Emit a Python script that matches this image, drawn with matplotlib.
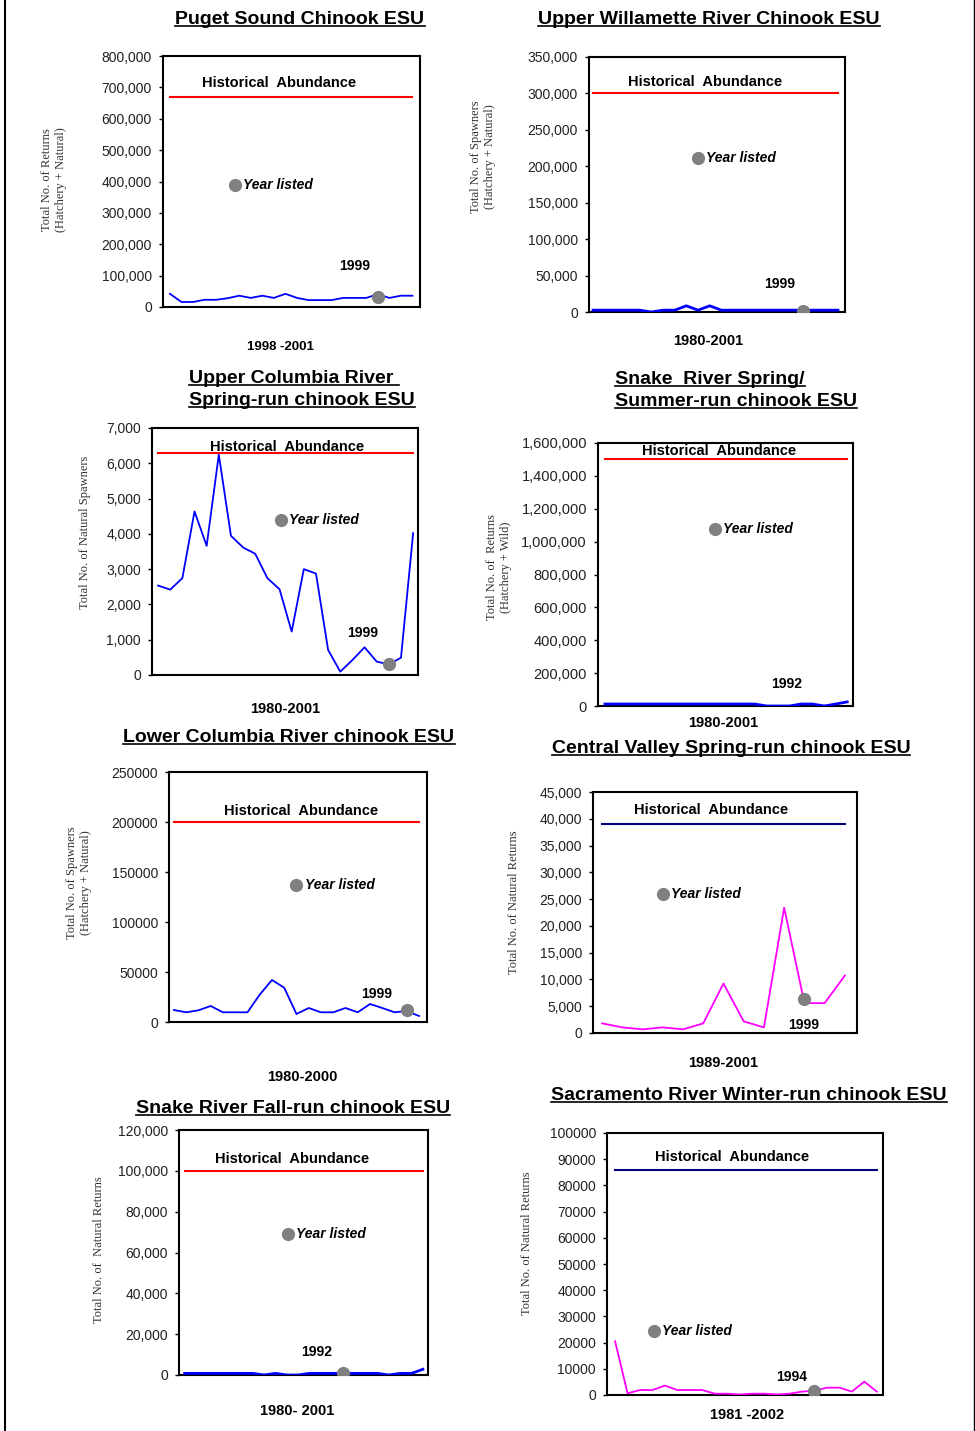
import matplotlib
matplotlib.use("Agg")
import matplotlib.pyplot as plt
from matplotlib.lines import Line2D
from matplotlib.ticker import FuncFormatter, MultipleLocator

W, H = 975, 1431

# --- valores (um ponto por ano) ---
puget_vals = [42000, 16000, 16000, 23000, 23000, 28000, 36000, 29000, 36000, 29000,
              42000, 29000, 22000, 22000, 22000, 29000, 29000, 29000, 41000, 29000,
              36000, 36000]
puget_hist = 670000
puget_listed = (18, 33000)

willamette_vals = [2500, 2500, 2500, 2500, 2500, 0, 2500, 2500, 8500, 2500,
                   8500, 2500, 2500, 2500, 2500, 2500, 2500, 2500, 2500, 2500,
                   2500, 2500]
willamette_hist = 300000
willamette_listed = (18, 2000)

ucol_vals = [2535, 2420, 2745, 4635, 3660, 6245, 3945, 3615, 3435, 2745,
             2430, 1230, 3000, 2875, 710, 95, 425, 785, 380, 300,
             490, 4020]
ucol_hist = 6280
ucol_listed = (19, 300)

snake_ss_vals = [12000, 12000, 12000, 12000, 12000, 12000, 12000, 12000, 12000, 12000,
                 12000, 12000, 12000, 12000, 0, 0, 0, 12000, 12000, 0,
                 12000, 25000]
snake_ss_hist = 1500000

lcol_vals = [12000, 9700, 11700, 16000, 9700, 9700, 9700, 27300, 42000, 34300,
             8000, 14000, 9700, 9700, 14000, 9700, 18000, 14000, 9700, 11000,
             6000]
lcol_hist = 200000
lcol_listed = (19, 12000)

cv_vals = [1800, 1050, 680, 1050, 680, 1800, 9240, 2170, 1050, 23400,
           5580, 5580, 10730]
cv_hist = 39000
cv_listed = (10, 6300)

snake_fall_vals = [800, 800, 800, 800, 800, 800, 800, 0, 800, 0,
                   0, 800, 800, 800, 800, 800, 800, 800, 0, 800,
                   800, 2800]
snake_fall_hist = 100000
snake_fall_listed = (14, 1100)

sac_vals = [20500, 640, 1900, 1900, 3570, 1900, 1900, 1900, 500, 500,
            200, 500, 500, 200, 500, 1300, 1650, 2800, 2800, 1300,
            5100, 1300]
sac_hist = 86000
sac_listed = (16, 1600)

BLUE, MAGENTA, RED, NAVY, GRAY = "#0000FF", "#FF00FF", "#FF0000", "#000080", "#808080"

panels = [
    dict(title=["Puget Sound Chinook ESU"], title_xy=(300, 24), title_ha="center",
         ylabel="Total No. of Returns\n(Hatchery + Natural)", ylabel_xy=(54, 180),
         xlabel="1998 -2001", xlabel_xy=(280, 347), xlabel_fs=9.5,
         rect=(163, 56, 420, 307), vals=puget_vals, hist=puget_hist, listed=puget_listed,
         ymax=800000, step=100000, comma=True, pad=(0.6, 0.65),
         color=BLUE, lw=1.3, hcolor=RED, year="1999",
         hist_xy=(9.45, 713000), leg_xy=(5.6, 390000), year_xy=(16.0, 131000)),
    dict(title=["Upper Willamette River Chinook ESU"], title_xy=(709, 24), title_ha="center",
         ylabel="Total No. of Spawners\n(Hatchery + Natural)", ylabel_xy=(483, 157),
         xlabel="1980-2001", xlabel_xy=(708, 341), xlabel_fs=10.5,
         rect=(589, 57, 845, 312), vals=willamette_vals, hist=willamette_hist,
         listed=willamette_listed,
         ymax=350000, step=50000, comma=True, pad=(0.35, 0.6),
         color=BLUE, lw=2.0, hcolor=RED, year="1999",
         hist_xy=(9.6, 315000), leg_xy=(9.0, 211500), year_xy=(16.0, 39000)),
    dict(title=["Upper Columbia River ", "Spring-run chinook ESU"], title_xy=(189, 383),
         title_ha="left",
         ylabel="Total No. of Natural Spawners", ylabel_xy=(85, 532),
         xlabel="1980-2001", xlabel_xy=(285, 709), xlabel_fs=10.5,
         rect=(152, 428, 418, 675), vals=ucol_vals, hist=ucol_hist, listed=ucol_listed,
         ymax=7000, step=1000, comma=True, pad=(0.5, 0.4),
         color=BLUE, lw=1.3, hcolor=RED, year="1999",
         hist_xy=(10.6, 6460), leg_xy=(10.1, 4400), year_xy=(16.8, 1180)),
    dict(title=["Snake  River Spring/", "Summer-run chinook ESU"], title_xy=(615, 384),
         title_ha="left",
         ylabel="Total No. of  Returns\n(Hatchery + Wild)", ylabel_xy=(499, 567),
         xlabel="1980-2001", xlabel_xy=(723, 723), xlabel_fs=10.5,
         rect=(598, 443, 853, 706), vals=snake_ss_vals, hist=snake_ss_hist, listed=None,
         ymax=1600000, step=200000, comma=True, pad=(0.6, 0.5),
         color=BLUE, lw=2.0, hcolor=RED, year="1992",
         hist_xy=(9.9, 1553000), leg_xy=(9.5, 1075000), year_xy=(15.7, 136000)),
    dict(title=["Lower Columbia River chinook ESU"], title_xy=(289, 742), title_ha="center",
         ylabel="Total No. of Spawners\n(Hatchery + Natural)", ylabel_xy=(79, 883),
         xlabel="1980-2000", xlabel_xy=(302, 1077), xlabel_fs=10.5,
         rect=(169, 772, 427, 1022), vals=lcol_vals, hist=lcol_hist, listed=lcol_listed,
         ymax=250000, step=50000, comma=False, pad=(0.4, 0.65),
         color=BLUE, lw=1.3, hcolor=RED, year="1999",
         hist_xy=(10.4, 210700), leg_xy=(10.0, 136700), year_xy=(16.5, 28300)),
    dict(title=["Central Valley Spring-run chinook ESU"], title_xy=(731, 753),
         title_ha="center",
         ylabel="Total No. of Natural Returns", ylabel_xy=(514, 902),
         xlabel="1989-2001", xlabel_xy=(723, 1063), xlabel_fs=10.5,
         rect=(593, 792, 857, 1033), vals=cv_vals, hist=cv_hist, listed=cv_listed,
         ymax=45000, step=5000, comma=True, pad=(0.45, 0.6),
         color=MAGENTA, lw=1.3, hcolor=NAVY, year="1999",
         hist_xy=(5.4, 41700), leg_xy=(3.0, 26000), year_xy=(9.97, 1550)),
    dict(title=["Snake River Fall-run chinook ESU"], title_xy=(293, 1113), title_ha="center",
         ylabel="Total No. of  Natural Returns", ylabel_xy=(99, 1250),
         xlabel="1980- 2001", xlabel_xy=(297, 1411), xlabel_fs=10.5,
         rect=(179, 1130, 428, 1375), vals=snake_fall_vals, hist=snake_fall_hist,
         listed=snake_fall_listed,
         ymax=120000, step=20000, comma=True, pad=(0.5, 0.45),
         color=BLUE, lw=2.0, hcolor=RED, year="1992",
         hist_xy=(9.5, 105600), leg_xy=(9.1, 68900), year_xy=(11.6, 11400)),
    dict(title=["Sacramento River Winter-run chinook ESU"], title_xy=(749, 1100),
         title_ha="center",
         ylabel="Total No. of Natural Returns", ylabel_xy=(527, 1243),
         xlabel="1981 -2002", xlabel_xy=(747, 1415), xlabel_fs=10.5,
         rect=(607, 1133, 883, 1395), vals=sac_vals, hist=sac_hist, listed=sac_listed,
         ymax=100000, step=10000, comma=False, pad=(0.65, 0.5),
         color=MAGENTA, lw=1.3, hcolor=NAVY, year="1994",
         hist_xy=(9.4, 90800), leg_xy=(3.1, 24600), year_xy=(14.2, 7000)),
]

plt.rcParams["font.family"] = ["Liberation Sans", "DejaVu Sans"]

fig = plt.figure(figsize=(W / 100, H / 100), dpi=100)

# borda da página
fig.add_artist(Line2D([5 / W, 5 / W], [0, 1], color="black", lw=1.5))
fig.add_artist(Line2D([974 / W, 974 / W], [0, 1], color="black", lw=1.0))


def fx(px):
    return px / W


def fy(py):
    return 1 - py / H


fmt_comma = FuncFormatter(lambda v, pos: f"{int(round(v)):,}")
fmt_plain = FuncFormatter(lambda v, pos: f"{int(round(v))}")

title_texts = []
for p in panels:
    l, t, r, b = p["rect"]
    ax = fig.add_axes([fx(l), fy(b), (r - l) / W, (b - t) / H])
    vals = p["vals"]
    n = len(vals)
    x = list(range(n))

    ax.plot(x, vals, color=p["color"], lw=p["lw"], zorder=3)
    ax.plot([0, n - 1], [p["hist"], p["hist"]], color=p["hcolor"], lw=1.5, zorder=2)
    if p["listed"] is not None:
        ax.plot(*p["listed"], marker="o", ms=8.5, color=GRAY, zorder=4)

    ax.set_xlim(-p["pad"][0], n - 1 + p["pad"][1])
    ax.set_ylim(0, p["ymax"])
    ax.set_xticks([])
    ax.yaxis.set_major_locator(MultipleLocator(p["step"]))
    ax.yaxis.set_major_formatter(fmt_comma if p["comma"] else fmt_plain)
    fs = 10.5 if p["ymax"] >= 1000000 else 10
    ax.tick_params(axis="y", direction="out", length=3, width=1, pad=5,
                   labelsize=fs, labelcolor="#222222")
    for s in ax.spines.values():
        s.set_linewidth(1.5)

    ax.text(*p["hist_xy"], "Historical  Abundance", ha="center", va="center",
            fontsize=10.5, fontweight="bold")
    ax.plot(*p["leg_xy"], marker="o", ms=8.5, color=GRAY, clip_on=False)
    ax.annotate("Year listed", p["leg_xy"], xytext=(6, 0), textcoords="offset points",
                ha="left", va="center", fontsize=10, fontweight="bold", style="italic")
    ax.text(*p["year_xy"], p["year"], ha="center", va="center",
            fontsize=10, fontweight="bold")

    # títulos (sublinhados depois)
    tx, ty = p["title_xy"]
    for i, line in enumerate(p["title"]):
        tt = fig.text(fx(tx), fy(ty + i * 22), line, ha=p["title_ha"], va="baseline",
                      fontsize=14, fontweight="bold")
        title_texts.append(tt)

    fig.text(fx(p["ylabel_xy"][0]), fy(p["ylabel_xy"][1]), p["ylabel"], rotation=90,
             ha="center", va="center", fontsize=9, family="Liberation Serif",
             color="#333333", linespacing=1.3, multialignment="center")
    fig.text(fx(p["xlabel_xy"][0]), fy(p["xlabel_xy"][1]), p["xlabel"], ha="center",
             va="center", fontsize=p["xlabel_fs"], fontweight="bold")

# sublinhado dos títulos
fig.canvas.draw()
renderer = fig.canvas.get_renderer()
for tt in title_texts:
    bb = tt.get_window_extent(renderer)
    yline = (bb.y0 + 2) / H
    fig.add_artist(Line2D([bb.x0 / W, bb.x1 / W], [yline, yline], color="black", lw=1.2))

fig.savefig("out.png", dpi=100)
